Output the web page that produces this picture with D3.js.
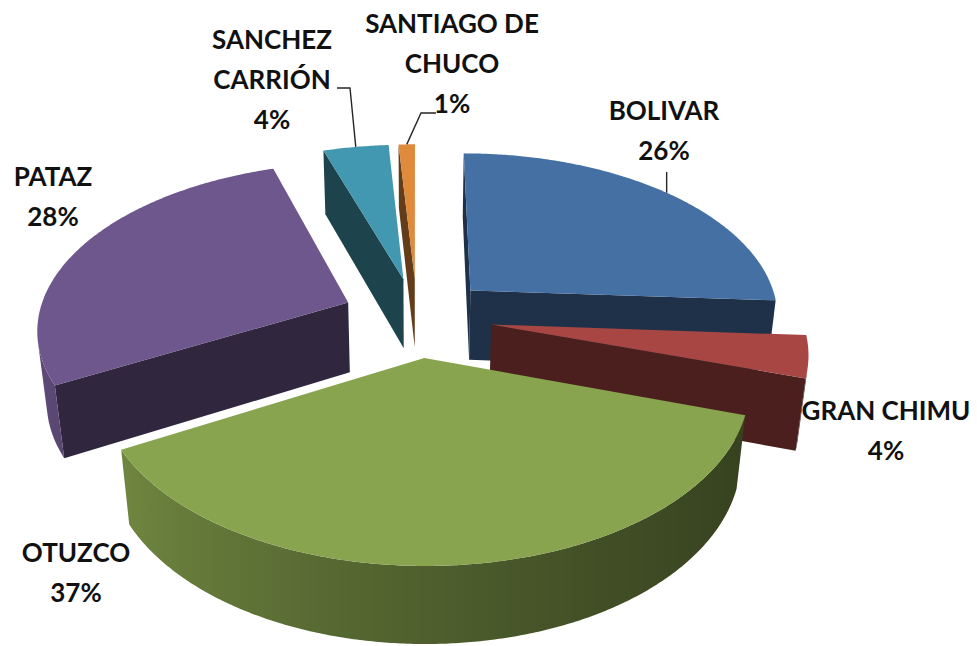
<!DOCTYPE html>
<html>
<head>
<meta charset="utf-8">
<script src="https://cdn.jsdelivr.net/npm/d3@7"></script>
<style>
  html, body { margin: 0; padding: 0; background: #ffffff; }
  svg { display: block; }
  text { font-family: "Lato", "Noto Sans", sans-serif; font-weight: 700; }
</style>
</head>
<body>
<svg id="chart" width="977" height="646"></svg>
<script>
// ---------- data ----------
const categories = ["BOLIVAR", "GRAN CHIMU", "OTUZCO", "PATAZ", "SANCHEZ CARRIÓN", "SANTIAGO DE CHUCO"];
const values = [26, 4, 37, 28, 4, 1];
const labelLines = [["BOLIVAR"], ["GRAN CHIMU"], ["OTUZCO"], ["PATAZ"], ["SANCHEZ", "CARRIÓN"], ["SANTIAGO DE", "CHUCO"]];

// ---------- style / layout ----------
const colors = ["#4470A4", "#A84644", "#88A44E", "#6E578C", "#4298B0", "#E08A3C"];
// label anchor: [center x, baseline of first line]
const labelAnchors = [[664, 120], [886, 420], [76, 562], [53, 186], [272, 49], [452, 33]];
// leader line bend points (null = no leader)
const leaderBends = [[[null, 172]], null, null, null, [[350, 88], [337, 88]], [[421, 113], [436, 113]]];

const W = 977, H = 646;
const CX = 417, CY = 317;        // screen position of pie centre (top face)
const R = 310;                   // radius (world units)
const EXPLODE = 75;              // explosion distance
const THICK = 85;                // slice thickness
const ALPHA = 32 * Math.PI / 180;// elevation
const DIST = 1800;               // camera distance
const FONT = 26, LINE_H = 40;

const sinA = Math.sin(ALPHA), cosA = Math.cos(ALPHA);
const cam = [0, DIST * sinA, DIST * cosA];

function proj(p) {
  const [X, Y, Z] = p;
  const u = Y * cosA - Z * sinA;
  const w = Z * cosA + Y * sinA;
  const s = DIST / (DIST - w);
  return [CX + s * X, CY - s * u];
}
function wp(off, r, th, y) {
  return [off[0] + r * Math.sin(th), y, off[1] - r * Math.cos(th)];
}
function visible(n, p) {
  return n[0] * (cam[0] - p[0]) + n[1] * (cam[1] - p[1]) + n[2] * (cam[2] - p[2]) > 0;
}
function rimShade(base, th) {
  const k = 0.45 + (2.6 - 0.45) * (1 + Math.sin(th)) / 2;
  return base.darker(k).formatHex();
}

const svg = d3.select("#chart");
const defs = svg.append("defs");
const line = d3.line().curve(d3.curveLinearClosed);
const total = d3.sum(values);
const pct = d3.format(".0%");

const arcs = d3.pie().sort(null).value(d => d)(values);

const slices = arcs.map((a, i) => {
  const mid = (a.startAngle + a.endAngle) / 2;
  const off = [EXPLODE * Math.sin(mid), -EXPLODE * Math.cos(mid)];
  const base = d3.color(colors[i]);
  const faces = [];
  const a0 = a.startAngle, a1 = a.endAngle;
  const steps = Math.max(4, Math.ceil((a1 - a0) / (Math.PI / 360)));

  // radial faces
  const dark = base.darker(2.3).formatHex();
  const nStart = [-Math.cos(a0), 0, -Math.sin(a0)];
  if (visible(nStart, wp(off, R / 2, a0, -THICK / 2))) {
    faces.push({ pts: [[off[0], 0, off[1]], wp(off, R, a0, 0), wp(off, R, a0, -THICK), [off[0], -THICK, off[1]]], fill: dark });
  }
  const nEnd = [Math.cos(a1), 0, Math.sin(a1)];
  if (visible(nEnd, wp(off, R / 2, a1, -THICK / 2))) {
    faces.push({ pts: [[off[0], 0, off[1]], wp(off, R, a1, 0), wp(off, R, a1, -THICK), [off[0], -THICK, off[1]]], fill: dark });
  }
  // outer rim: contiguous visible runs, one path each, shaded with a gradient
  let run = [];
  const runs = [];
  for (let j = 0; j <= steps; j++) {
    const t = a0 + (a1 - a0) * j / steps;
    const n = [Math.sin(t), 0, -Math.cos(t)];
    if (visible(n, wp(off, R, t, -THICK / 2))) run.push(t);
    else if (run.length) { runs.push(run); run = []; }
  }
  if (run.length) runs.push(run);
  runs.forEach((ts, ri) => {
    if (ts.length < 2) return;
    const topPts = ts.map(t => wp(off, R, t, 0));
    const botPts = ts.map(t => wp(off, R, t, -THICK)).reverse();
    const xs = ts.map(t => proj(wp(off, R, t, -THICK / 2))[0]);
    const x1 = d3.min(xs), x2 = d3.max(xs);
    const id = `rim-${i}-${ri}`;
    const grad = defs.append("linearGradient").attr("id", id)
      .attr("gradientUnits", "userSpaceOnUse")
      .attr("x1", x1).attr("x2", x2 > x1 ? x2 : x1 + 1).attr("y1", 0).attr("y2", 0);
    const stops = ts.map((t, k) => ({ o: x2 > x1 ? (xs[k] - x1) / (x2 - x1) : 0, c: rimShade(base, t) }))
      .sort((p, q) => p.o - q.o);
    grad.selectAll("stop").data(stops).join("stop")
      .attr("offset", d => d.o).attr("stop-color", d => d.c);
    faces.push({ pts: topPts.concat(botPts), fill: `url(#${id})` });
  });
  // top face
  const top = [[off[0], 0, off[1]]];
  for (let j = 0; j <= steps; j++) top.push(wp(off, R, a0 + (a1 - a0) * j / steps, 0));
  faces.push({ pts: top, fill: base.formatHex() });

  const c = wp(off, 0.6 * R, mid, 0);
  const depth = c[2] * cosA + c[1] * sinA;
  return { i, a, mid, off, faces, depth };
});

// painter's order: farthest slice first
slices.slice().sort((p, q) => p.depth - q.depth).forEach(s => {
  const g = svg.append("g").attr("class", "slice");
  g.selectAll("path").data(s.faces).join("path")
    .attr("d", f => line(f.pts.map(proj)))
    .attr("fill", f => f.fill)
    .attr("stroke", "none");
});

// leader lines
slices.forEach(s => {
  const bends = leaderBends[s.i];
  if (!bends) return;
  const start = proj(wp(s.off, R, s.mid, 0));
  const pts = [start].concat(bends.map(b => [b[0] === null ? start[0] : b[0], b[1]]));
  svg.append("path")
    .attr("d", d3.line()(pts))
    .attr("fill", "none")
    .attr("stroke", "#262626")
    .attr("stroke-width", 1.4);
});

// labels
slices.forEach(s => {
  const [x, y] = labelAnchors[s.i];
  const lines = labelLines[s.i].concat([pct(values[s.i] / total)]);
  const t = svg.append("text")
    .attr("x", x).attr("y", y)
    .attr("text-anchor", "middle")
    .attr("font-size", FONT)
    .attr("fill", "#111111");
  lines.forEach((ln, k) => {
    t.append("tspan").attr("x", x).attr("y", y + k * LINE_H).text(ln);
  });
});
</script>
</body>
</html>
